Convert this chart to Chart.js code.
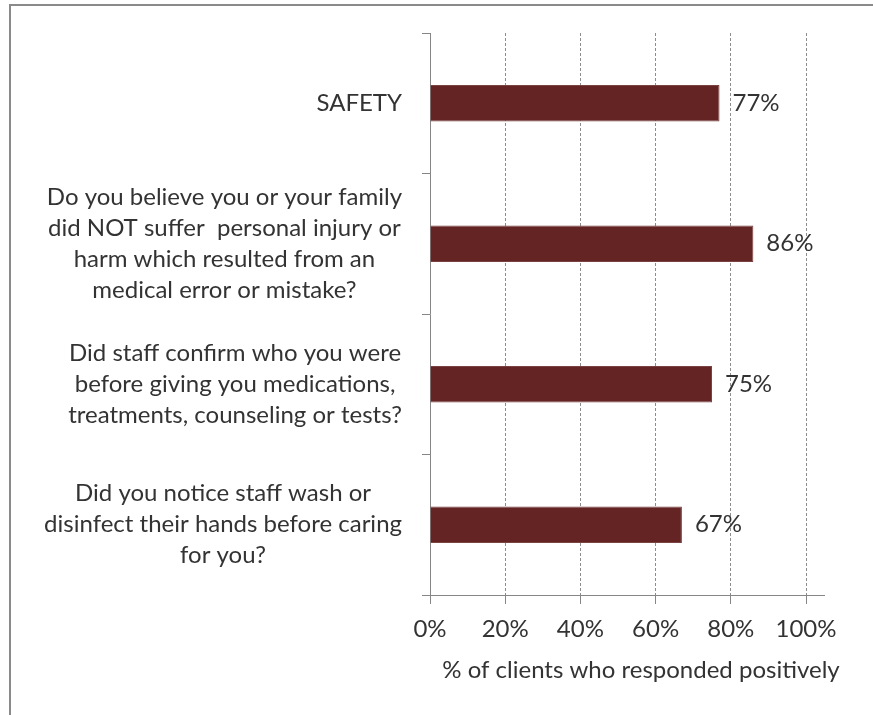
<!DOCTYPE html>
<html>
<head>
<meta charset="utf-8">
<script src="https://cdn.jsdelivr.net/npm/chart.js@4.4.0/dist/chart.umd.min.js"></script>
<style>
  html, body { margin: 0; padding: 0; background: #fff; overflow: hidden; }
  #wrap { position: relative; width: 873px; height: 715px; }
  #frame { position: absolute; left: 9px; top: 4px; width: 900px; height: 760px; border: 2px solid #8a8a8a; box-sizing: border-box; }
  canvas { position: absolute; left: 0; top: 0; }
</style>
</head>
<body>
<div id="wrap">
  <div id="frame"></div>
  <canvas id="chart" width="873" height="715"></canvas>
</div>
<script>
// ----- Data -----
const questions = [
  ['SAFETY'],
  ['Do you believe you or your family', 'did NOT suffer  personal injury or', 'harm which resulted from an', 'medical error or mistake?'],
  ['Did staff confirm who you were', 'before giving you medications,', 'treatments, counseling or tests?'],
  ['Did you notice staff wash or', 'disinfect their hands before caring', 'for you?']
];
const positivePct = [77, 86, 75, 67];
const xTicks = [0, 20, 40, 60, 80, 100];
const xAxisTitle = '% of clients who responded positively';

const FONT = 'Lato, "Open Sans", sans-serif';
const FSIZE = 24;
const TEXT = '#333333';
const AXIS = '#868686';

// draws category labels (centered lines, block right-aligned), value labels, axis title
const extrasPlugin = {
  id: 'extras',
  afterDraw(chart) {
    const ctx = chart.ctx;
    const y = chart.scales.y;
    const area = chart.chartArea;
    ctx.save();

    // extend x axis line a bit past 100% like the original
    ctx.strokeStyle = AXIS;
    ctx.lineWidth = 1;
    ctx.beginPath();
    ctx.moveTo(area.right, Math.round(area.bottom) + 0.5);
    ctx.lineTo(area.right + 19, Math.round(area.bottom) + 0.5);
    ctx.stroke();

    // category labels
    ctx.font = FSIZE + 'px ' + FONT;
    ctx.fillStyle = TEXT;
    ctx.textAlign = 'center';
    ctx.textBaseline = 'middle';
    const lineH = 31;
    questions.forEach((lines, i) => {
      const cy = y.getPixelForValue(i);
      const maxW = Math.max(...lines.map(l => ctx.measureText(l).width));
      const cx = area.left - 28 - maxW / 2;
      const top = cy - (lines.length - 1) * lineH / 2;
      lines.forEach((l, j) => ctx.fillText(l, cx, top + j * lineH));
    });

    // value labels
    ctx.textAlign = 'left';
    const meta = chart.getDatasetMeta(0);
    meta.data.forEach((bar, i) => {
      ctx.fillText(positivePct[i] + '%', bar.x + 13, bar.y);
    });

    // axis title
    ctx.textAlign = 'center';
    ctx.fillText(xAxisTitle, (area.left + area.right) / 2 + 23, 670);
    ctx.restore();
  }
};

const ctx = document.getElementById('chart').getContext('2d');
const chart = new Chart(ctx, {
  type: 'bar',
  data: {
    labels: questions.map(q => q.join(' ')),
    datasets: [{
      data: positivePct,
      backgroundColor: '#632423',
      borderColor: '#7a4240',
      borderWidth: 1,
      categoryPercentage: 1,
      barPercentage: 0.26
    }]
  },
  options: {
    responsive: false,
    animation: false,
    indexAxis: 'y',
    layout: { padding: { top: 33, right: 67, left: 0, bottom: 0 } },
    plugins: {
      legend: { display: false },
      tooltip: { enabled: false }
    },
    scales: {
      x: {
        min: 0,
        max: 100,
        afterBuildTicks(scale) { scale.ticks = xTicks.map(v => ({ value: v })); },
        afterFit(scale) { scale.height = 715 - 595; },
        ticks: {
          color: TEXT,
          font: { family: FONT, size: FSIZE },
          padding: 11,
          callback: v => v + '%'
        },
        grid: {
          color: ctx => ctx.tick && ctx.tick.value === 0 ? 'rgba(0,0,0,0)' : '#8c8c8c',
          tickColor: AXIS,
          tickLength: 9,
          drawOnChartArea: true
        },
        border: { color: AXIS, dash: [3, 2], width: 1 }
      },
      y: {
        offset: true,
        afterFit(scale) { scale.width = 430; },
        ticks: { display: false },
        grid: {
          offset: true,
          drawOnChartArea: false,
          color: AXIS,
          tickLength: 8
        },
        border: { color: AXIS, width: 1 }
      }
    }
  },
  plugins: [extrasPlugin]
});
</script>
</body>
</html>
